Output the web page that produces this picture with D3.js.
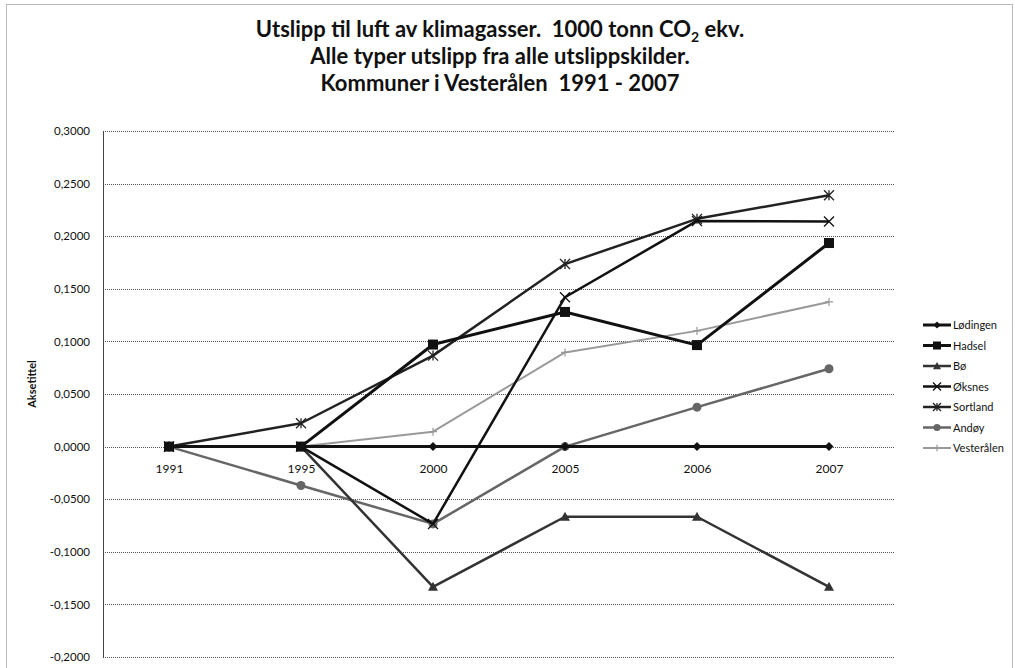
<!DOCTYPE html>
<html>
<head>
<meta charset="utf-8">
<script src="https://cdn.jsdelivr.net/npm/d3@7"></script>
<style>
  body { margin: 0; background: #fff; }
  svg { display: block; font-family: Lato, "Open Sans", sans-serif; }
  .title { white-space: pre; }
</style>
</head>
<body>
<div id="chart"></div>
<script>
// data
const years = ['1991', '1995', '2000', '2005', '2006', '2007'];
const lodingen   = [0, 0, 0, 0, 0, 0];
const hadsel     = [0, 0, 0.097, 0.128, 0.0965, 0.1935];
const bo         = [0, 0, -0.1333, -0.0667, -0.0667, -0.1333];
const oksnes     = [0, 0, -0.0735, 0.142, 0.2145, 0.214];
const sortland   = [0, 0.0222, 0.0865, 0.1735, 0.2165, 0.239];
const andoy      = [0, -0.0370, -0.0735, 0, 0.0375, 0.0740];
const vesteralen = [0, 0, 0.0142, 0.0895, 0.1100, 0.1375];
const yTicks = [-0.2, -0.15, -0.1, -0.05, 0, 0.05, 0.1, 0.15, 0.2, 0.25, 0.3];

const series = [
  { name: 'Lødingen',   values: lodingen,   color: '#111', width: 3,   marker: 'diamond' },
  { name: 'Hadsel',     values: hadsel,     color: '#111', width: 3,   marker: 'square' },
  { name: 'Bø',         values: bo,         color: '#333', width: 2.5, marker: 'triangle' },
  { name: 'Øksnes',     values: oksnes,     color: '#111', width: 2.5, marker: 'x' },
  { name: 'Sortland',   values: sortland,   color: '#222', width: 2.5, marker: 'star' },
  { name: 'Andøy',      values: andoy,      color: '#666', width: 2.5, marker: 'circle' },
  { name: 'Vesterålen', values: vesteralen, color: '#999', width: 2,   marker: 'plus' }
];

const width = 1015, height = 668;
const plot = { left: 103, right: 895, top: 131, bottom: 657 };

const svg = d3.select('#chart').append('svg')
  .attr('width', width)
  .attr('height', height);

// outer frame
svg.append('rect')
  .attr('x', 6.5).attr('y', 4.5)
  .attr('width', 1006).attr('height', 670)
  .attr('fill', 'none')
  .attr('stroke', '#777')
  .attr('stroke-dasharray', '1,1');

const x = d3.scalePoint().domain(years).range([plot.left, plot.right]).padding(0.5);
const y = d3.scaleLinear().domain([-0.2, 0.3]).range([plot.bottom, plot.top]);

const locale = d3.formatLocale({ decimal: ',', thousands: ' ', grouping: [3], currency: ['', ''], minus: '-' });
const fmt = locale.format('.4f');

// title
const title = svg.append('text')
  .attr('class', 'title')
  .attr('x', 500)
  .attr('text-anchor', 'middle')
  .attr('font-weight', 'bold')
  .attr('font-size', 22)
  .attr('fill', '#111');
const t1 = title.append('tspan').attr('x', 500).attr('y', 37);
t1.append('tspan').text('Utslipp til luft av klimagasser.  1000 tonn CO');
t1.append('tspan').attr('font-size', 14).attr('dy', 5).text('2');
t1.append('tspan').attr('dy', -5).text(' ekv.');
title.append('tspan').attr('x', 500).attr('y', 64).text('Alle typer utslipp fra alle utslippskilder.');
title.append('tspan').attr('x', 500).attr('y', 91).text('Kommuner i Vesterålen  1991 - 2007');

// grid
svg.append('g')
  .selectAll('line')
  .data(yTicks)
  .join('line')
  .attr('x1', plot.left).attr('x2', plot.right)
  .attr('y1', d => Math.round(y(d)) + 0.5).attr('y2', d => Math.round(y(d)) + 0.5)
  .attr('stroke', '#555')
  .attr('stroke-dasharray', '1,1');

// y axis
const yAxis = svg.append('g')
  .attr('transform', `translate(${plot.left},0)`)
  .call(d3.axisLeft(y).tickValues(yTicks).tickFormat(fmt).tickSize(0).tickPadding(13));
yAxis.select('.domain').attr('stroke', '#444');
yAxis.selectAll('text').attr('font-size', 11.5).attr('fill', '#111').attr('font-family', 'Lato, sans-serif');

svg.append('text')
  .attr('transform', `translate(36,${(plot.top + plot.bottom) / 2 - 10}) rotate(-90)`)
  .attr('text-anchor', 'middle')
  .attr('font-size', 11)
  .attr('font-weight', 'bold')
  .attr('fill', '#111')
  .text('Aksetittel');

// x labels at zero line
const xAxis = svg.append('g')
  .attr('transform', `translate(0,${y(0)})`)
  .call(d3.axisBottom(x).tickSize(0).tickPadding(18));
xAxis.select('.domain').remove();
xAxis.selectAll('text').attr('font-size', 12).attr('fill', '#111').attr('font-family', 'Lato, sans-serif');

// marker drawing
function drawMarker(g, type, color, size) {
  const s = size;
  if (type === 'diamond') {
    g.append('path').attr('d', `M0,${-s}L${s},0L0,${s}L${-s},0Z`).attr('fill', color);
  } else if (type === 'square') {
    g.append('rect').attr('x', -s).attr('y', -s).attr('width', 2 * s).attr('height', 2 * s).attr('fill', color);
  } else if (type === 'triangle') {
    g.append('path').attr('d', `M0,${-s}L${s},${s * 0.8}L${-s},${s * 0.8}Z`).attr('fill', color);
  } else if (type === 'circle') {
    g.append('circle').attr('r', s).attr('fill', color);
  } else if (type === 'x') {
    g.append('path').attr('d', `M${-s},${-s}L${s},${s}M${-s},${s}L${s},${-s}`).attr('stroke', color).attr('stroke-width', 1.3);
  } else if (type === 'star') {
    g.append('path').attr('d', `M${-s},${-s}L${s},${s}M${-s},${s}L${s},${-s}M0,${-s}L0,${s}`).attr('stroke', color).attr('stroke-width', 1.3);
  } else if (type === 'plus') {
    g.append('path').attr('d', `M${-s},0L${s},0M0,${-s}L0,${s}`).attr('stroke', color).attr('stroke-width', 1.2);
  }
}

const markerSize = { diamond: 4.5, square: 5, triangle: 5, circle: 4.5, x: 5, star: 5, plus: 4 };

const line = d3.line().x((d, i) => x(years[i])).y(d => y(d));

// draw series from last to first so Lødingen sits on top like the original
series.slice().reverse().forEach(s => {
  const g = svg.append('g');
  g.append('path')
    .datum(s.values)
    .attr('d', line)
    .attr('fill', 'none')
    .attr('stroke', s.color)
    .attr('stroke-width', s.width)
    .attr('stroke-linejoin', 'round');
  g.selectAll('g.pt')
    .data(s.values)
    .join('g')
    .attr('class', 'pt')
    .attr('transform', (d, i) => `translate(${x(years[i])},${y(d)})`)
    .each(function () { drawMarker(d3.select(this), s.marker, s.color, markerSize[s.marker]); });
});

// legend
const legend = svg.append('g').attr('transform', 'translate(923,325)');
series.forEach((s, i) => {
  const row = legend.append('g').attr('transform', `translate(0,${i * 20.5})`);
  row.append('line')
    .attr('x1', 0).attr('x2', 28)
    .attr('stroke', s.color)
    .attr('stroke-width', s.width);
  const m = row.append('g').attr('transform', 'translate(14,0)');
  drawMarker(m, s.marker, s.color, markerSize[s.marker] * 0.8);
  row.append('text')
    .attr('x', 30).attr('y', 4)
    .attr('font-size', 11)
    .attr('fill', '#111')
    .text(s.name);
});
</script>
</body>
</html>
